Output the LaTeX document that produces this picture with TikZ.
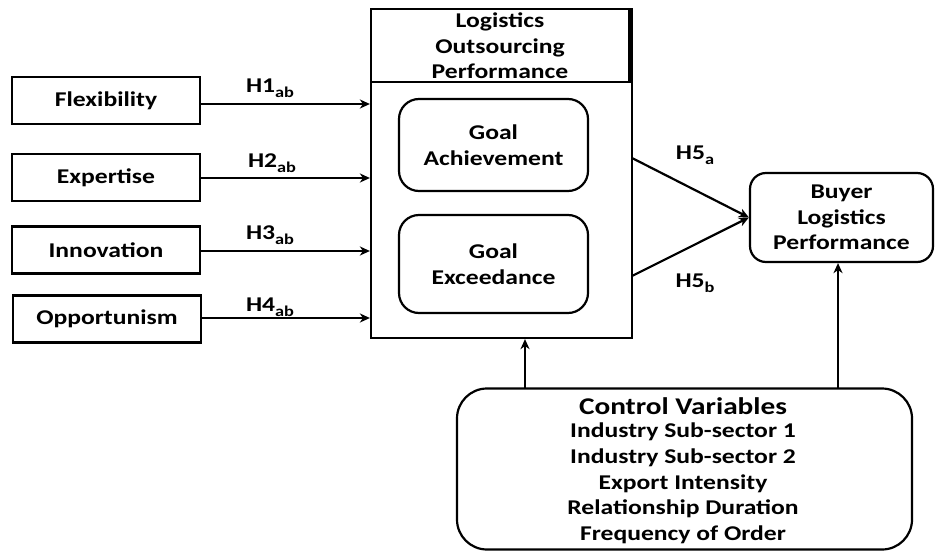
\documentclass[tikz,border=0pt]{standalone}
\usepackage{fontspec}
\setmainfont{Carlito}[FakeStretch=1.22]
\usetikzlibrary{arrows.meta,calc}
\newcommand{\hsub}[1]{\raisebox{-5pt}{\fontsize{15}{15}\selectfont #1}}
\begin{document}
\begin{tikzpicture}[x=1pt,y=-1pt,
  font=\fontsize{21}{25.6}\selectfont\bfseries,
  line width=2.2pt,
  arr/.style={-{Stealth[length=10pt,width=9pt,inset=3pt]}},
  inbox/.style={draw,rectangle,minimum width=188pt,minimum height=47pt,inner sep=0pt},
  goalbox/.style={draw,rectangle,rounded corners=20pt,minimum width=189pt,inner sep=0pt,align=center},
  hlabel/.style={inner sep=0pt}]
\useasboundingbox (0,0) rectangle (936,551);

% antecedent constructs
\node[inbox] (flex) at (106,100.5) {Flexibility};
\node[inbox] (expt) at (106,177.5) {Expertise};
\node[inbox] (innov) at (106,250) {Innovation};
\node[inbox] (opp) at (107,319) {Opportunism};

% logistics outsourcing performance block
\node[draw,rectangle,minimum width=261pt,minimum height=329pt,inner sep=0pt] (lop) at (501.5,173.5) {};
\coordinate (hdrL) at (371,82);
\coordinate (hdrR) at (632,82);
\draw (hdrL) -- (hdrR);
\draw[line width=3.4pt] (629.5,9) -- (629.5,82);
\node[align=center,inner sep=0pt] (hdr) at (500,46) {Logistics\\Outsourcing\\Performance};
\node[goalbox,minimum height=92pt] (ga) at (493.5,145) {Goal\\Achievement};
\node[goalbox,minimum height=98pt] (ge) at (493.5,264) {Goal\\Exceedance};

% outcome
\node[draw,rectangle,rounded corners=16pt,minimum width=183pt,minimum height=89pt,inner sep=0pt,align=center] (blp) at (841.5,217.5) {Buyer\\Logistics\\Performance};

% control variables
\node[draw,rectangle,rounded corners=30pt,minimum width=455pt,minimum height=161pt,inner sep=0pt] (ctrl) at (684.5,469) {};
\node[inner sep=0pt,font=\fontsize{24}{24}\selectfont\bfseries] (ctitle) at (683,406) {Control Variables};
\node[inner sep=0pt,align=center,anchor=north] (clist) at (683,422) {Industry Sub-sector 1\\Industry Sub-sector 2\\Export Intensity\\Relationship Duration\\Frequency of Order};

% hypothesised paths
\draw[arr] (flex.east |- 0,104) -- (lop.west |- 0,104);
\draw[arr] (expt.east |- 0,178) -- (lop.west |- 0,178);
\draw[arr] (innov.east |- 0,251) -- (lop.west |- 0,251);
\draw[arr] (opp.east |- 0,318) -- (lop.west |- 0,318);
\node[hlabel] (h1) at (270,88) {H1\hsub{ab}};
\node[hlabel] (h2) at (272,163) {H2\hsub{ab}};
\node[hlabel] (h3) at (270,235) {H3\hsub{ab}};
\node[hlabel] (h4) at (270,307) {H4\hsub{ab}};

\coordinate (h5aS) at (632,158);
\coordinate (h5bS) at (632,276);
\draw[arr] (h5aS) -- (blp.west);
\draw[arr] (h5bS) -- (blp.west);
\node[hlabel] (h5a) at (695,155) {H5\hsub{a}};
\node[hlabel] (h5b) at (695,283) {H5\hsub{b}};

% control paths
\coordinate (cL) at (525,388);
\coordinate (cR) at (838,388);
\draw[arr] (cL) -- (cL |- lop.south);
\draw[arr] (cR) -- (cR |- blp.south);
\end{tikzpicture}
\end{document}
